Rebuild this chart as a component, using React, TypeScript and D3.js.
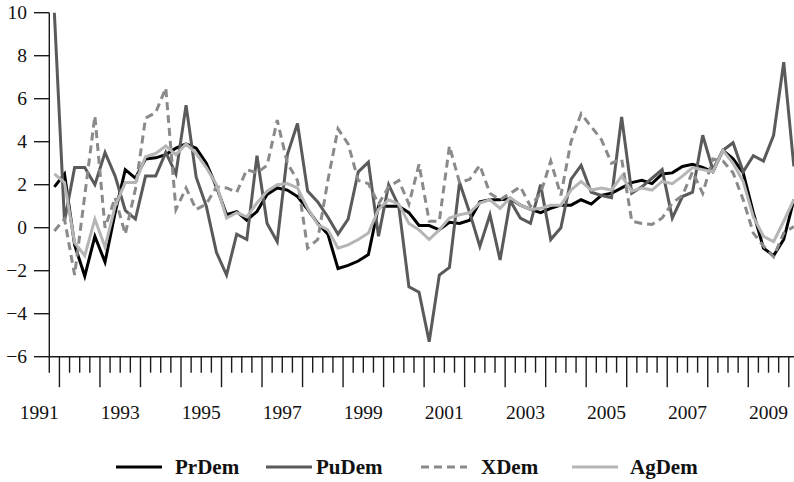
import React from "react";
import * as d3 from "d3";

// Quarterly data, 1991Q4 .. 2010Q1
const startYear = 1991;
const startQuarter = 4;

const prDem = [
  1.9, 2.5, -0.8, -2.25, -0.4, -1.6, 0.7, 2.7, 2.3, 3.2,
  3.25, 3.4, 3.7, 3.9, 3.7, 3.0, 1.9, 0.6, 0.75, 0.35,
  0.75, 1.55, 1.85, 1.75, 1.45, 0.85, 0.2, -0.3, -1.9, -1.75,
  -1.55, -1.25, 1.0, 1.0, 1.0, 0.7, 0.1, 0.1, -0.1, 0.25,
  0.2, 0.35, 1.2, 1.3, 1.3, 1.35, 1.05, 0.85, 0.7, 0.9,
  1.05, 1.05, 1.3, 1.1, 1.5, 1.6, 1.85, 2.1, 2.2, 2.05,
  2.5, 2.55, 2.85, 2.95, 2.8, 2.6, 3.6, 3.2, 2.55, 0.7,
  -0.95, -1.3, -0.55, 1.3,
];

const puDem = [
  10, 0.3, 2.8, 2.8, 2.0, 3.5, 2.4, 0.8, 0.4, 2.4,
  2.4, 3.5, 2.5, 5.7, 2.35, 1.0, -1.15, -2.2, -0.3, -0.55,
  3.35, 0.2, -0.65, 3.4, 4.85, 1.7, 1.2, 0.5, -0.3, 0.4,
  2.6, 3.05, -0.4, 2.0, 1.0, -2.75, -3.0, -5.3, -2.2, -1.85,
  2.1, 0.7, -0.87, 0.6, -1.5, 1.25, 0.45, 0.2, 2.0, -0.55,
  0.0, 2.25, 2.9, 1.65, 1.5, 1.4, 5.15, 1.6, 1.9, 2.3,
  2.7, 0.45, 1.45, 1.65, 4.3, 2.7, 3.6, 3.95, 2.6, 3.35,
  3.1, 4.3, 7.7, 2.85,
];

const xDem = [
  -0.15, 0.4, -2.2, 1.5, 5.2, 0.0, 1.4, -0.3, 1.8, 5.1,
  5.35, 6.5, 0.85, 1.85, 0.85, 1.1, 1.9, 1.85, 1.65, 2.7,
  2.55, 2.9, 5.0, 3.0, 2.2, -0.95, -0.55, 2.2, 4.6, 3.9,
  2.2, 2.05, 1.1, 1.9, 2.2, 1.1, 2.95, 0.3, 0.3, 3.8,
  2.1, 2.25, 2.9, 1.6, 1.3, 1.6, 1.9, 1.0, 1.6, 3.1,
  1.5, 4.0, 5.3, 4.7, 4.1, 3.0, 3.2, 0.3, 0.2, 0.15,
  0.45, 1.15, 1.5, 2.6, 1.6, 3.2, 3.1, 2.55, 1.3, -0.25,
  -0.85, -1.35, -0.25, 0.05,
];

const agDem = [
  2.5, 2.1, -0.7, -1.3, 0.4, -0.9, 1.0, 2.1, 2.1, 3.3,
  3.45, 3.8, 3.4, 3.9, 3.45, 2.8, 2.0, 0.45, 0.7, 0.5,
  1.15, 1.7, 2.0, 2.05, 1.85, 0.9, 0.15, -0.1, -0.95, -0.8,
  -0.55, -0.25, 0.85, 1.3, 1.1, 0.2, -0.1, -0.55, -0.1, 0.45,
  0.6, 0.7, 1.15, 1.3, 0.9, 1.4, 1.05, 0.85, 0.9, 1.05,
  1.05, 1.75, 2.15, 1.75, 1.85, 1.75, 2.4, 1.7, 1.85, 1.75,
  2.15, 2.05, 2.4, 2.8, 2.7, 2.6, 3.6, 3.0, 2.15, 0.5,
  -0.4, -0.65, 0.3, 1.3,
];

const yTicks = [-6, -4, -2, 0, 2, 4, 6, 8, 10];
const yearLabels = [1991, 1993, 1995, 1997, 1999, 2001, 2003, 2005, 2007, 2009];
const seriesNames = ["PrDem", "PuDem", "XDem", "AgDem"];

const W = 794;
const H = 482;
const left = 49.3;
const qw = 10.13;
const top = 12.7;
const bottom = 356.7;

const seriesStyle = [
  { color: "#000000", dash: null },
  { color: "#5a5a5a", dash: null },
  { color: "#8a8a8a", dash: "8,5" },
  { color: "#b5b5b5", dash: null },
];

export default function App() {
  const n = prDem.length;
  const x = d3.scaleLinear().domain([-0.5, n - 0.5]).range([left, left + n * qw]);
  const y = d3.scaleLinear().domain([-6, 10]).range([bottom, top]);
  const line = d3
    .line<number>()
    .x((_, i) => x(i))
    .y((d) => y(d));

  const data = [prDem, puDem, xDem, agDem];

  const boundaries: { pos: number; long: boolean }[] = [];
  for (let k = 0; k <= n; k++) {
    const qIndex = startQuarter - 1 + k;
    boundaries.push({ pos: x(k - 0.5), long: qIndex % 4 === 0 });
  }
  const yearCenter = (Y: number) => {
    const k = (Y - startYear) * 4 - (startQuarter - 1);
    return x(k - 0.5 + 2);
  };

  const font = "'Liberation Serif', 'Times New Roman', serif";
  const legendItems = [
    { lx: 116, tx: 175 },
    { lx: 266, tx: 316 },
    { lx: 421, tx: 481 },
    { lx: 572, tx: 630 },
  ];

  return (
    <svg
      width={W}
      height={H}
      style={{ position: "absolute", left: 0, top: 0, background: "#fff" }}
      fontFamily={font}
    >
      <rect x={0} y={0} width={W} height={H} fill="#fff" />
      <line x1={left} x2={left} y1={top} y2={bottom} stroke="#1a1a1a" strokeWidth={1.4} />
      {yTicks.map((t) => (
        <g key={t}>
          <line x1={34} x2={left} y1={y(t)} y2={y(t)} stroke="#1a1a1a" strokeWidth={1.4} />
          <text x={27} y={y(t)} dy="0.34em" textAnchor="end" fontSize={19.5} fill="#111">
            {t < 0 ? "\u2212" + Math.abs(t) : String(t)}
          </text>
        </g>
      ))}
      <line x1={left} x2={W} y1={bottom} y2={bottom} stroke="#1a1a1a" strokeWidth={1.4} />
      {boundaries.map((b, i) => (
        <line
          key={i}
          x1={b.pos}
          x2={b.pos}
          y1={bottom}
          y2={bottom + (b.long ? 30.5 : 16)}
          stroke="#1a1a1a"
          strokeWidth={1.4}
        />
      ))}
      {yearLabels.map((Y) => (
        <text key={Y} x={yearCenter(Y)} y={419} textAnchor="middle" fontSize={19.5} fill="#111">
          {Y}
        </text>
      ))}
      {data.map((d, si) => (
        <path
          key={si}
          d={line(d) || ""}
          fill="none"
          stroke={seriesStyle[si].color}
          strokeWidth={3}
          strokeLinejoin="miter"
          strokeDasharray={seriesStyle[si].dash || undefined}
        />
      ))}
      {seriesNames.map((name, si) => (
        <g key={name}>
          <line
            x1={legendItems[si].lx}
            x2={legendItems[si].lx + 46}
            y1={467}
            y2={467}
            stroke={seriesStyle[si].color}
            strokeWidth={3}
            strokeDasharray={seriesStyle[si].dash || undefined}
          />
          <text x={legendItems[si].tx} y={474} fontSize={21} fontWeight="bold" fill="#111">
            {name}
          </text>
        </g>
      ))}
    </svg>
  );
}
